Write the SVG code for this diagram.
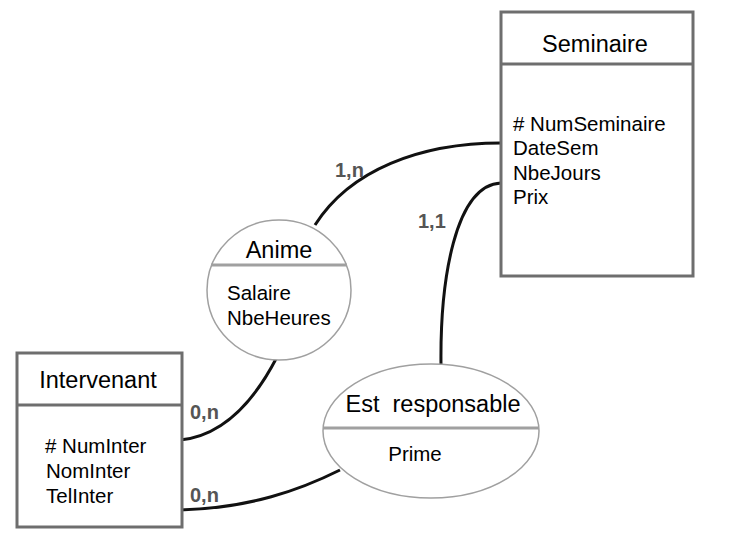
<svg xmlns="http://www.w3.org/2000/svg" width="730" height="550" viewBox="0 0 730 550">
<style>
.box{fill:#fff;stroke:#6e6e6e;stroke-width:3}
.sep{stroke:#6e6e6e;stroke-width:3}
.ell{fill:#fff;stroke:#a0a0a0;stroke-width:1.5}
.esep{stroke:#a0a0a0;stroke-width:3}
.t{font-family:"Liberation Sans",Arial,sans-serif;fill:#000}
.title{font-size:23.5px}
.attr{font-size:20.5px}
.card{font-family:"Liberation Sans",Arial,sans-serif;font-size:20px;font-weight:bold;fill:#555}
.conn{fill:none;stroke:#111;stroke-width:3}
</style>
<rect width="730" height="550" fill="#fff"/>
<g id="connectors">
<path class="conn" d="M315,225 C350,170 420,143 501,143"/>
<path class="conn" d="M501,183 C455,185 440,280 441,365"/>
<path class="conn" d="M180,440 C230,435 260,390 277,357"/>
<path class="conn" d="M180,510 C250,508 300,490 340,470"/>
<text class="card" x="335" y="177">1,n</text>
<text class="card" x="418" y="228">1,1</text>
<text class="card" x="190" y="419">0,n</text>
<text class="card" x="190" y="502">0,n</text>
</g>
<g id="seminaire">
<rect class="box" x="501" y="12" width="192" height="264"/>
<line class="sep" x1="501" y1="64" x2="693" y2="64"/>
<text class="t title" x="595" y="52" text-anchor="middle">Seminaire</text>
<text class="t attr" x="513" y="131"># NumSeminaire</text>
<text class="t attr" x="513" y="155">DateSem</text>
<text class="t attr" x="513" y="180">NbeJours</text>
<text class="t attr" x="513" y="204">Prix</text>
</g>
<g id="intervenant">
<rect class="box" x="17" y="353" width="165" height="174"/>
<line class="sep" x1="17" y1="405" x2="182" y2="405"/>
<text class="t title" x="98" y="388" text-anchor="middle">Intervenant</text>
<text class="t attr" x="45" y="453"># NumInter</text>
<text class="t attr" x="46" y="478">NomInter</text>
<text class="t attr" x="46" y="503">TelInter</text>
</g>
<g id="anime">
<ellipse class="ell" cx="279" cy="290" rx="72" ry="70"/>
<line class="esep" x1="211" y1="265" x2="347" y2="265"/>
<text class="t title" x="279" y="258" text-anchor="middle">Anime</text>
<text class="t attr" x="227" y="300">Salaire</text>
<text class="t attr" x="227" y="325">NbeHeures</text>
</g>
<g id="est-responsable">
<ellipse class="ell" cx="431" cy="431" rx="108" ry="67"/>
<line class="esep" x1="323" y1="428" x2="539" y2="428"/>
<text class="t title" x="433" y="412" text-anchor="middle" xml:space="preserve">Est  responsable</text>
<text class="t attr" x="415" y="461" text-anchor="middle">Prime</text>
</g>
</svg>
